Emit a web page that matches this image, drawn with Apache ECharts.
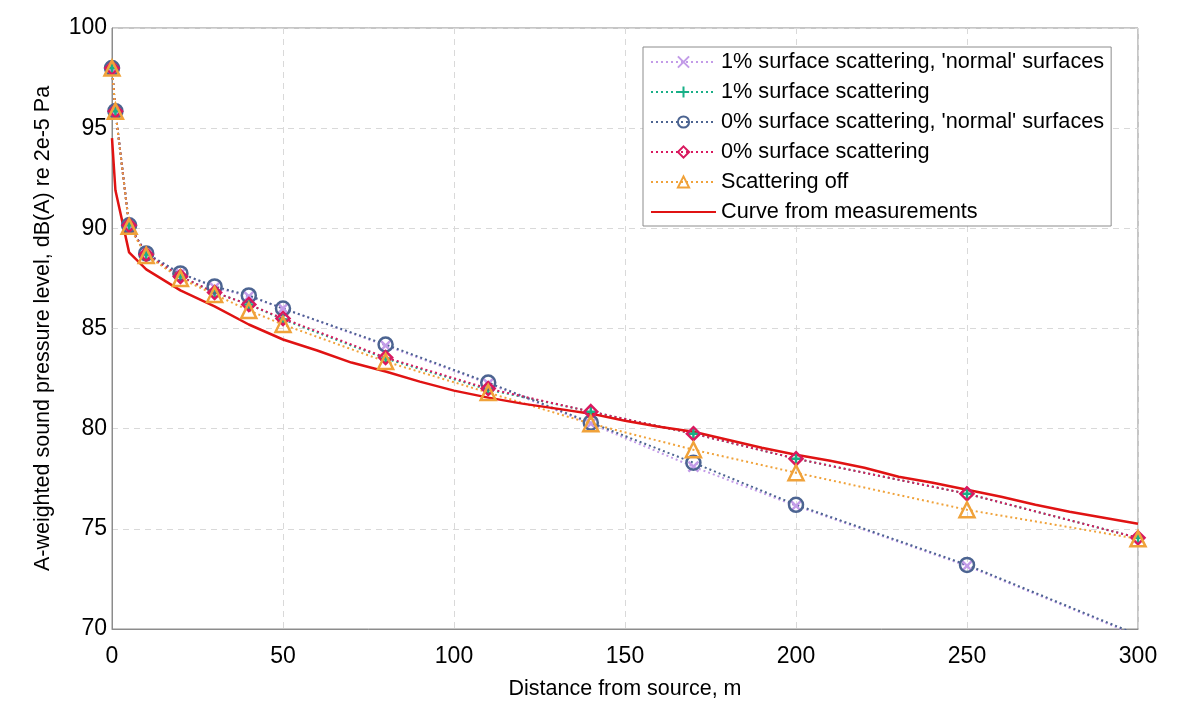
<!DOCTYPE html>
<html>
<head>
<meta charset="utf-8">
<script src="https://cdn.jsdelivr.net/npm/echarts@6/dist/echarts.min.js"></script>
<style>html,body{margin:0;padding:0;background:#fff;}#c{width:1187px;height:714px;}</style>
</head>
<body>
<div id="c"></div>
<script>
// ---- data ----
const distances = [0, 1, 5, 10, 20, 30, 40, 50, 80, 110, 140, 170, 200, 250, 300];
const scat1Normal = [98.0, 95.85, 90.15, 88.75, 87.75, 87.05, 86.6, 86.0, 84.15, 82.25, 80.25, 78.1, 76.15, 73.15, 69.65];
const scat1 = [98.0, 95.85, 90.15, 88.7, 87.6, 86.8, 86.2, 85.45, 83.5, 81.95, 80.85, 79.75, 78.5, 76.75, 74.55];
const scat0Normal = [98.0, 95.85, 90.15, 88.75, 87.75, 87.1, 86.65, 86.0, 84.2, 82.3, 80.3, 78.3, 76.2, 73.2, 69.7];
const scat0 = [98.0, 95.85, 90.15, 88.7, 87.6, 86.8, 86.2, 85.5, 83.55, 82.0, 80.85, 79.75, 78.5, 76.75, 74.55];
const scatOff = [98.0, 95.85, 90.1, 88.65, 87.5, 86.7, 85.9, 85.2, 83.35, 81.8, 80.25, 78.95, 77.8, 75.95, 74.5];
const measDist = [0, 1, 5, 10, 20, 30, 40, 50, 60, 70, 80, 90, 100, 110, 120, 130, 140, 150, 160, 170, 180, 190, 200, 210, 220, 230, 240, 250, 260, 270, 280, 290, 300];
const measured = [94.5, 91.9, 88.8, 87.95, 86.9, 86.1, 85.2, 84.45, 83.9, 83.3, 82.85, 82.35, 81.9, 81.55, 81.25, 81.0, 80.75, 80.4, 80.1, 79.85, 79.45, 79.05, 78.7, 78.4, 78.05, 77.6, 77.3, 76.95, 76.6, 76.2, 75.85, 75.55, 75.25];
const seriesNames = ["1% surface scattering, 'normal' surfaces", "1% surface scattering", "0% surface scattering, 'normal' surfaces", "0% surface scattering", "Scattering off", "Curve from measurements"];
const xTicks = [0, 50, 100, 150, 200, 250, 300];
const yTicks = [70, 75, 80, 85, 90, 95, 100];

const FONT = "'Liberation Sans', Arial, sans-serif";
const pairs = (xs, ys) => xs.map((x, i) => [x, ys[i]]);

function dotted(name, ys, color, symbol, size, bw) {
  return {
    name: name, type: 'line', data: pairs(distances, ys),
    symbol: symbol, symbolSize: size, showAllSymbol: true,
    lineStyle: { color: color, width: 2, type: [2, 3] },
    itemStyle: { color: 'transparent', borderColor: color, borderWidth: bw },
    emphasis: { disabled: true }, clip: true
  };
}

const chart = echarts.init(document.getElementById('c'), null, { renderer: 'canvas' });
chart.setOption({
  animation: false,
  backgroundColor: '#fff',
  grid: { left: 112, right: 49, top: 28, bottom: 85, show: true, borderColor: '#8c8c8c', borderWidth: 1, backgroundColor: 'transparent' },
  legend: {
    left: 643, top: 47, orient: 'vertical',
    padding: [4, 7, 3, 7], itemGap: 8, itemWidth: 65, itemHeight: 14,
    borderColor: '#8c8c8c', borderWidth: 1, backgroundColor: '#fff',
    textStyle: { fontFamily: FONT, fontSize: 21.7, lineHeight: 22, color: '#000' },
    data: seriesNames.map((n, i) => i === 5 ? { name: n, itemStyle: { opacity: 0 } } : n)
  },
  xAxis: {
    type: 'value', min: 0, max: 300, interval: 50,
    name: 'Distance from source, m', nameLocation: 'middle', nameGap: 49,
    nameTextStyle: { fontFamily: FONT, fontSize: 21.5, color: '#000' },
    axisLine: { show: true, lineStyle: { color: '#8c8c8c' } },
    axisTick: { show: false },
    axisLabel: { fontFamily: FONT, fontSize: 23, color: '#000', margin: 16,
      formatter: v => xTicks.includes(v) ? String(v) : '' },
    splitLine: { show: true, lineStyle: { color: '#d9d9d9', type: [6, 5], width: 1 } }
  },
  yAxis: {
    type: 'value', min: 70, max: 100, interval: 5,
    name: 'A-weighted sound pressure level, dB(A) re 2e-5 Pa', nameLocation: 'middle', nameGap: 58,
    nameTextStyle: { fontFamily: FONT, fontSize: 21.5, color: '#000' },
    axisLine: { show: true, lineStyle: { color: '#8c8c8c' } },
    axisTick: { show: false },
    axisLabel: { fontFamily: FONT, fontSize: 23, color: '#000', margin: 5,
      formatter: v => yTicks.includes(v) ? String(v) : '' },
    splitLine: { show: true, lineStyle: { color: '#d9d9d9', type: [6, 5], width: 1 } }
  },
  series: [
    dotted(seriesNames[0], scat1Normal, '#c39ce8', 'path://M0,0L10,10M10,0L0,10', 10, 2.5),
    dotted(seriesNames[1], scat1, '#19b087', 'path://M5,0L5,10M0,5L10,5', 11, 2.5),
    dotted(seriesNames[2], scat0Normal, '#4c6491', 'circle', 14, 2.5),
    dotted(seriesNames[3], scat0, '#d9195f', 'diamond', [13, 13], 2.5),
    dotted(seriesNames[4], scatOff, '#f0a23a', 'triangle', 15, 2.5),
    {
      name: seriesNames[5], type: 'line', data: pairs(measDist, measured),
      symbol: 'none', showSymbol: false,
      lineStyle: { color: '#e01313', width: 2.5 },
      itemStyle: { color: '#e01313' },
      emphasis: { disabled: true }, clip: true
    }
  ]
});
</script>
</body>
</html>
